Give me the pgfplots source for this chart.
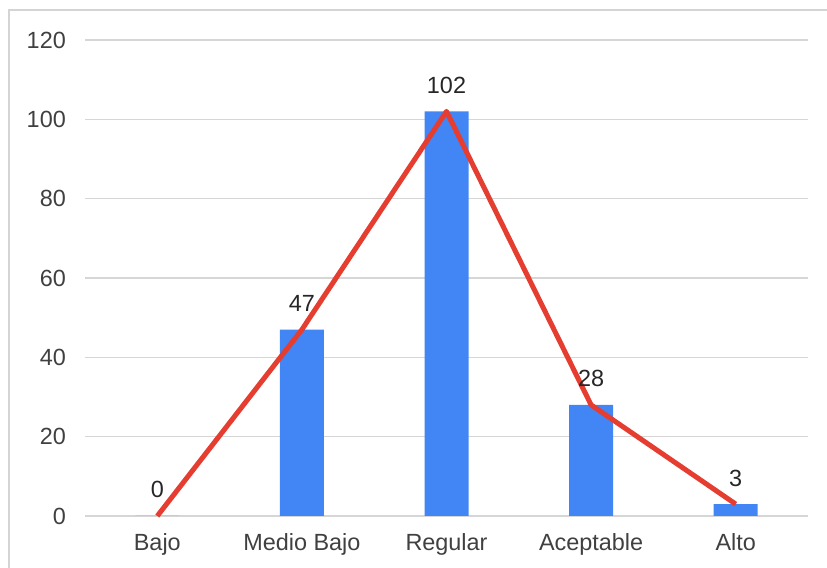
\documentclass[border=0pt]{standalone}
\usepackage{pgfplots}
\pgfplotsset{compat=1.18}
\usepackage{pgfplotstable}
\usepackage{fontspec}
\setmainfont{Liberation Sans}

\definecolor{barblue}{HTML}{4285F4}
\definecolor{baredge}{HTML}{3B7BE8}
\definecolor{trendred}{HTML}{E53D30}
\definecolor{gridgray}{HTML}{D6D6D6}
\definecolor{framegray}{HTML}{D4D4D4}
\definecolor{labelgray}{HTML}{404040}

% Frequency per performance level
\pgfplotstableread{
idx value
0   0
1   47
2   102
3   28
4   3
}\levels

\begin{document}
\begin{tikzpicture}[x=1bp,y=1bp]
\useasboundingbox (0,0) rectangle (827,568);
\draw[framegray, line width=2.5bp] (9,-2) -- (9,558) -- (830,558);
\begin{axis}[
  at={(85bp,52bp)}, anchor=south west,
  scale only axis, width=723bp, height=476bp,
  xmin=-0.5, xmax=4.5, ymin=0, ymax=120,
  ytick={0,20,...,120},
  xtick={0,1,2,3,4},
  xticklabels={Bajo,Medio Bajo,Regular,Aceptable,Alto},
  axis line style={draw=none},
  major tick length=0pt,
  ymajorgrids, grid style={gridgray, line width=1.6bp},
  tick label style={font=\fontsize{23.5}{27}\selectfont, text=labelgray, inner sep=0pt},
  yticklabel style={anchor=east, xshift=-19bp},
  xticklabel style={anchor=base, yshift=-35bp},
  /pgf/number format/assume math mode=true,
  clip=false,
]
\addplot[ybar, bar width=44bp, fill=barblue, draw=none,
  nodes near coords,
  every node near coord/.style={font=\fontsize{23.5}{27}\selectfont, text=black!85,
    anchor=base, inner sep=0pt, yshift=18bp}]
  table[x=idx, y=value]{\levels};
\addplot[trendred, line width=5bp, line join=round, mark=none]
  table[x=idx, y=value]{\levels};
\end{axis}
\end{tikzpicture}
\end{document}
